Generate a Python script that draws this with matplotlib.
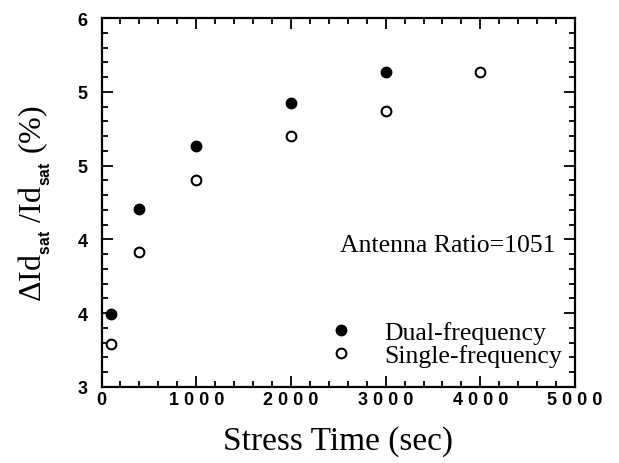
import matplotlib
matplotlib.use("Agg")
import matplotlib.pyplot as plt
from matplotlib.ticker import MultipleLocator, FixedLocator, FormatStrFormatter, FuncFormatter

# data
time_dual = [100, 400, 1000, 2000, 3000]
val_dual = [3.59, 4.45, 4.96, 5.31, 5.56]
time_single = [100, 400, 1000, 2000, 3000, 4000]
val_single = [3.35, 4.10, 4.68, 5.04, 5.24, 5.56]
y_ticks = [3.0, 3.6, 4.2, 4.8, 5.4, 6.0]

plt.rcParams["mathtext.fontset"] = "custom"
plt.rcParams["mathtext.rm"] = "Liberation Serif"
plt.rcParams["mathtext.sf"] = "Liberation Sans:bold"

fig = plt.figure(figsize=(6.19, 4.64), dpi=100)
ax = fig.add_axes([0.164, 0.164, 0.765, 0.795])

ax.plot(time_dual, val_dual, "o", color="black", markersize=7.5,
        linestyle="none", label="Dual-frequency")
ax.plot(time_single, val_single, "o", markerfacecolor="white",
        markeredgecolor="black", markeredgewidth=1.5, markersize=7,
        linestyle="none", label="Single-frequency")

ax.set_xlim(0, 5000)
ax.set_ylim(3, 6)
ax.xaxis.set_major_locator(MultipleLocator(1000))
ax.xaxis.set_minor_locator(MultipleLocator(200))
# the old plot program spaced its digits out
ax.xaxis.set_major_formatter(FuncFormatter(lambda v, p: " ".join(f"{v:.0f}")))
ax.yaxis.set_major_locator(FixedLocator(y_ticks))
ax.yaxis.set_minor_locator(MultipleLocator(0.12))
ax.yaxis.set_major_formatter(FormatStrFormatter("%.0f"))

ax.tick_params(which="both", direction="in", top=True, right=True, width=1.3)
ax.tick_params(which="major", length=8, labelsize=13)
ax.tick_params(axis="x", which="major", pad=3)
ax.tick_params(axis="y", which="major", pad=10)
ax.tick_params(which="minor", length=4)
for lbl in ax.get_xticklabels() + ax.get_yticklabels():
    lbl.set_fontfamily("Liberation Sans")
    lbl.set_fontweight("bold")
for sp in ax.spines.values():
    sp.set_linewidth(1.6)

ax.set_xlabel("Stress Time (sec)", fontsize=24, family="Liberation Serif", labelpad=12)
ax.set_ylabel(r"$\Delta$Id$_{_{\mathsf{sat}}}$ /Id$_{_{\mathsf{sat}}}$ (%)", fontsize=23,
              family="Liberation Serif", labelpad=18)

ax.text(0.503, 0.385, "Antenna Ratio=1051", transform=ax.transAxes,
        fontsize=18.5, family="Liberation Serif", ha="left", va="center")

ax.legend(loc="lower left", bbox_to_anchor=(0.44, 0.005), frameon=False,
          prop={"family": "Liberation Serif", "size": 18.5},
          handletextpad=1.2, labelspacing=0.0, handlelength=1.0,
          borderaxespad=0.3)

fig.savefig("out.png", dpi=100)
